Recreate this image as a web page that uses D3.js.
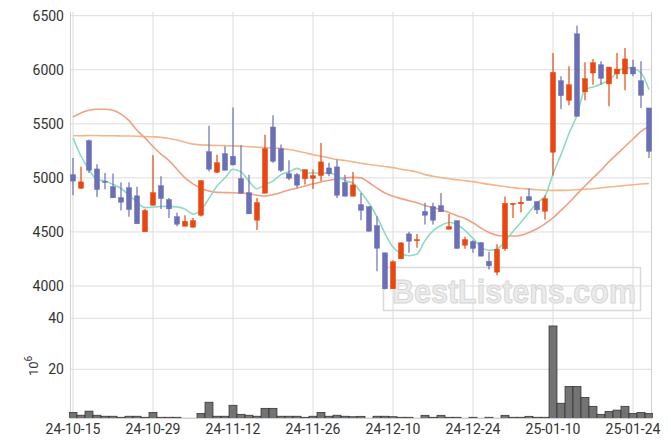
<!DOCTYPE html>
<html><head><meta charset="utf-8">
<script src="https://cdn.jsdelivr.net/npm/d3@7"></script>
<style>body{margin:0;background:#fff}svg{display:block}</style>
</head><body>
<svg id="c" width="671" height="447"></svg>
<script>
const dates = ["24-10-15","24-10-16","24-10-17","24-10-18","24-10-21","24-10-22","24-10-23","24-10-24","24-10-25","24-10-28",
"24-10-29","24-10-30","24-10-31","24-11-01","24-11-04","24-11-05","24-11-06","24-11-07","24-11-08","24-11-11",
"24-11-12","24-11-13","24-11-14","24-11-15","24-11-18","24-11-19","24-11-20","24-11-21","24-11-22","24-11-25",
"24-11-26","24-11-27","24-11-28","24-11-29","24-12-02","24-12-03","24-12-04","24-12-05","24-12-06","24-12-09",
"24-12-10","24-12-11","24-12-12","24-12-13","24-12-16","24-12-17","24-12-18","24-12-19","24-12-20","24-12-23",
"24-12-24","24-12-26","24-12-27","24-12-30","25-01-02","25-01-03","25-01-06","25-01-07","25-01-08","25-01-09",
"25-01-10","25-01-13","25-01-14","25-01-15","25-01-16","25-01-17","25-01-20","25-01-21","25-01-22","25-01-23",
"25-01-24","25-01-31","25-02-03"];
const openP = [5030,4904,5345,5083,4969,4920,4818,4910,4834,4501,
4747,4929,4800,4642,4553,4543,4654,5243,5052,5225,
5200,4994,4864,4608,4858,5471,5271,5040,5030,4991,
4996,5021,5092,5102,4959,4830,4753,4735,4559,4307,
3974,4251,4482,4418,4689,4735,4744,4525,4605,4377,
4411,4402,4229,4128,4344,4753,4760,4827,4781,4691,
5237,5899,5717,6333,5795,5970,6047,5869,5961,5961,
6025,5899,5647];
const highP = [5185,5102,5354,5126,5046,5040,4959,4959,4917,4713,
5209,5015,4815,4677,4654,4630,4975,5483,5213,5292,
5652,5305,5030,4815,5400,5579,5308,5163,5046,5077,
5077,5323,5139,5169,5030,5055,4861,4735,4645,4307,
4238,4405,4501,4482,4769,4769,4861,4667,4605,4455,
4423,4405,4316,4385,4827,4765,4827,4901,4781,4836,
6155,5939,6032,6407,6069,6100,6078,6025,6155,6201,
6093,6078,5647];
const lowP = [4839,4900,5046,4824,4895,4815,4698,4640,4575,4501,
4747,4713,4630,4553,4553,4543,4642,5058,5045,5070,
5115,4858,4667,4519,4858,5139,5055,4978,4908,4938,
4898,4969,5015,4815,4830,4830,4608,4506,4137,3968,
3974,4251,4307,4353,4568,4568,4686,4525,4347,4344,
4307,4276,4153,4100,4325,4629,4683,4790,4667,4615,
5021,5638,5671,5569,5717,5862,5862,5662,5915,5810,
5939,5647,5185];
const closeP = [4970,4963,5070,4892,4960,4815,4775,4707,4575,4698,
4864,4809,4713,4571,4599,4605,4975,5080,5141,5070,
5120,4858,4667,4772,5271,5153,5070,4996,4932,5077,
5021,5148,5037,4839,4830,4935,4700,4506,4349,3974,
4224,4399,4414,4430,4654,4608,4686,4550,4347,4430,
4347,4276,4186,4340,4765,4765,4775,4790,4704,4808,
5976,5760,5862,5569,5918,6066,5921,6025,6007,6100,
5961,5763,5246];
const volume = [3.1,2.0,3.6,2.0,1.6,1.6,1.2,1.6,1.6,1.2,
3.1,1.2,1.2,1.2,0.8,0.8,2.7,7.1,1.6,1.6,
5.9,2.35,2.0,1.6,4.7,4.7,1.6,1.6,1.6,1.2,
1.6,3.1,1.6,2.0,1.6,1.4,1.57,0.8,1.6,1.6,
1.4,1.2,1.2,0.8,1.96,1.2,1.96,1.2,1.2,0.8,
1.2,0.8,1.2,0.8,1.96,1.2,1.2,1.57,1.2,1.2,
37.0,6.7,13.3,13.3,9.0,5.5,2.35,3.5,4.0,5.5,
2.7,3.1,2.7];
const ma5 = [5370,5200,5077,4985,4971,4940,4902,4840,4775,4725,
4730,4735,4736,4732,4711,4665,4705,4810,4925,5000,
5080,5055,4968,4900,4938,4970,5030,5056,5088,5050,
5045,5045,5045,5020,4975,4950,4866,4765,4640,4485,
4360,4300,4280,4295,4420,4510,4560,4588,4569,4515,
4440,4360,4330,4340,4415,4505,4590,4680,4770,4830,
5035,5215,5410,5580,5817,5840,5868,5905,5975,6020,
6010,5972,5815];
const ma20 = [5563,5600,5625,5635,5635,5625,5590,5530,5440,5370,
5290,5220,5160,5080,5000,4945,4905,4878,4866,4864,
4862,4858,4852,4840,4832,4845,4865,4888,4905,4925,
4945,4962,4978,4990,5000,5005,5000,4955,4905,4860,
4830,4808,4788,4770,4745,4725,4705,4680,4650,4625,
4585,4535,4495,4470,4462,4462,4470,4495,4530,4575,
4630,4700,4770,4850,4925,5000,5070,5150,5220,5290,
5360,5430,5475];
const ma60 = [5390,5390,5392,5392,5390,5390,5388,5387,5385,5383,
5380,5375,5365,5350,5330,5312,5305,5302,5300,5298,
5296,5292,5288,5284,5280,5277,5272,5262,5248,5232,
5215,5200,5185,5170,5160,5148,5135,5124,5115,5105,
5095,5080,5068,5055,5030,5015,5002,4992,4982,4974,
4965,4952,4940,4930,4920,4910,4902,4896,4890,4886,
4884,4884,4886,4890,4895,4900,4908,4915,4922,4930,
4937,4943,4948];
const priceTicks = [4000,4500,5000,5500,6000,6500];
const volTicks = [20,40];
const xTickLabels = ["24-10-15","24-10-29","24-11-12","24-11-26","24-12-10","24-12-24","25-01-10","25-01-24"];

const svg = d3.select("#c");
const L = 69, R = 653, PT = 12, PB = 312, VT = 313, VB = 418;
const x = d3.scaleBand().domain(d3.range(dates.length)).range([L, R]);
const cx = i => x(i) + x.bandwidth() / 2;
const yP = d3.scaleLinear().domain([4000, 6500]).range([286, 15.7]);
const yV = d3.scaleLinear().domain([0, 40]).range([420.3, 318.3]);
const gridC = "#dcdcdc", textC = "#333";
const font = "Roboto, 'Liberation Sans', sans-serif";

const defs = svg.append("defs");
defs.append("clipPath").attr("id","cp").append("rect").attr("x",L).attr("y",PT).attr("width",R-L).attr("height",PB-PT);
defs.append("clipPath").attr("id","cv").append("rect").attr("x",L).attr("y",VT).attr("width",R-L).attr("height",VB-VT);

// gridlines
const g = svg.append("g");
g.selectAll(".hp").data(priceTicks).join("line")
  .attr("x1", L+1).attr("x2", R-1).attr("y1", d => yP(d)).attr("y2", d => yP(d))
  .attr("stroke", gridC).attr("stroke-width", 1);
g.selectAll(".hv").data(volTicks).join("line")
  .attr("x1", L+1).attr("x2", R-1).attr("y1", d => yV(d)).attr("y2", d => yV(d))
  .attr("stroke", gridC).attr("stroke-width", 1);
const tickIdx = xTickLabels.map(t => dates.indexOf(t));
g.selectAll(".vg").data(tickIdx).join("line")
  .attr("x1", d => cx(d)).attr("x2", d => cx(d)).attr("y1", PT).attr("y2", VB)
  .attr("stroke", gridC).attr("stroke-width", 1);
// borders
g.append("line").attr("x1", L+1.5).attr("x2", L+1.5).attr("y1", PT).attr("y2", VB).attr("stroke", "#d0d0d0");
g.append("line").attr("x1", R-1.5).attr("x2", R-1.5).attr("y1", PT).attr("y2", VB).attr("stroke", "#d0d0d0");
g.append("line").attr("x1", L+1).attr("x2", R-1).attr("y1", VB+0.5).attr("y2", VB+0.5).attr("stroke", "#d0d0d0");

// watermark
const wm = svg.append("g");
wm.append("rect").attr("x", 383.5).attr("y", 267.5).attr("width", 257).attr("height", 43)
  .attr("fill", "none").attr("stroke", "#d9d9d9").attr("stroke-width", 1.5);
wm.append("text").attr("x", 392).attr("y", 303).text("BestListens.com")
  .attr("font-family", "'Liberation Sans', Arial, sans-serif").attr("font-weight", "bold")
  .attr("font-size", 34).attr("textLength", 244).attr("lengthAdjust", "spacingAndGlyphs")
  .attr("fill", "#ebebeb").attr("stroke", "#d6d6d6").attr("stroke-width", 1);

// volume
svg.append("g").attr("clip-path", "url(#cv)")
  .selectAll("rect").data(volume).join("rect")
  .attr("x", (d, i) => x(i)).attr("width", x.bandwidth())
  .attr("y", d => yV(d)).attr("height", d => yV(0) - yV(d))
  .attr("fill", "#737373").attr("stroke", "#2b2b2b").attr("stroke-width", 0.7);

// MA lines
const lp = svg.append("g").attr("clip-path", "url(#cp)");
const line = d3.line().x((d, i) => cx(i)).y(d => yP(d)).curve(d3.curveMonotoneX);
lp.append("path").datum(ma60).attr("d", line).attr("fill", "none").attr("stroke", "#f3b68a").attr("stroke-width", 1.6);
lp.append("path").datum(ma20).attr("d", line).attr("fill", "none").attr("stroke", "#f0a084").attr("stroke-width", 1.6);
lp.append("path").datum(ma5).attr("d", line).attr("fill", "none").attr("stroke", "#8ddcc2").attr("stroke-width", 1.6);

// candles
const upC = "#e8470f", dnC = "#6b6fb6";
const cg = svg.append("g").attr("clip-path", "url(#cp)");
const idx = d3.range(dates.length);
const col = i => closeP[i] >= openP[i] ? upC : dnC;
cg.selectAll("line").data(idx).join("line")
  .attr("x1", i => cx(i)).attr("x2", i => cx(i))
  .attr("y1", i => yP(highP[i])).attr("y2", i => yP(lowP[i]))
  .attr("stroke", col).attr("stroke-width", 1.2);
cg.selectAll("rect").data(idx).join("rect")
  .attr("x", i => cx(i) - 2.6).attr("width", 5.2)
  .attr("y", i => yP(Math.max(openP[i], closeP[i])))
  .attr("height", i => Math.max(1.2, Math.abs(yP(openP[i]) - yP(closeP[i]))))
  .attr("fill", col).attr("stroke", col).attr("stroke-width", 0.4);

// axes text
const at = svg.append("g").attr("font-family", font).attr("font-size", 14).attr("fill", textC);
at.selectAll(".yp").data(priceTicks).join("text")
  .attr("x", 64).attr("y", d => yP(d) + 5).attr("text-anchor", "end").text(d => d);
at.selectAll(".yv").data(volTicks).join("text")
  .attr("x", 64).attr("y", d => yV(d) + 5).attr("text-anchor", "end").text(d => d);
at.selectAll(".xt").data(xTickLabels).join("text")
  .attr("x", d => cx(dates.indexOf(d))).attr("y", 434).attr("text-anchor", "middle").text(d => d);
const yl = at.append("text").attr("transform", "translate(38,376) rotate(-90)").attr("font-size", 13);
yl.append("tspan").text("10");
yl.append("tspan").attr("dy", -6).attr("font-size", 10).text("6");
</script>
</body></html>
